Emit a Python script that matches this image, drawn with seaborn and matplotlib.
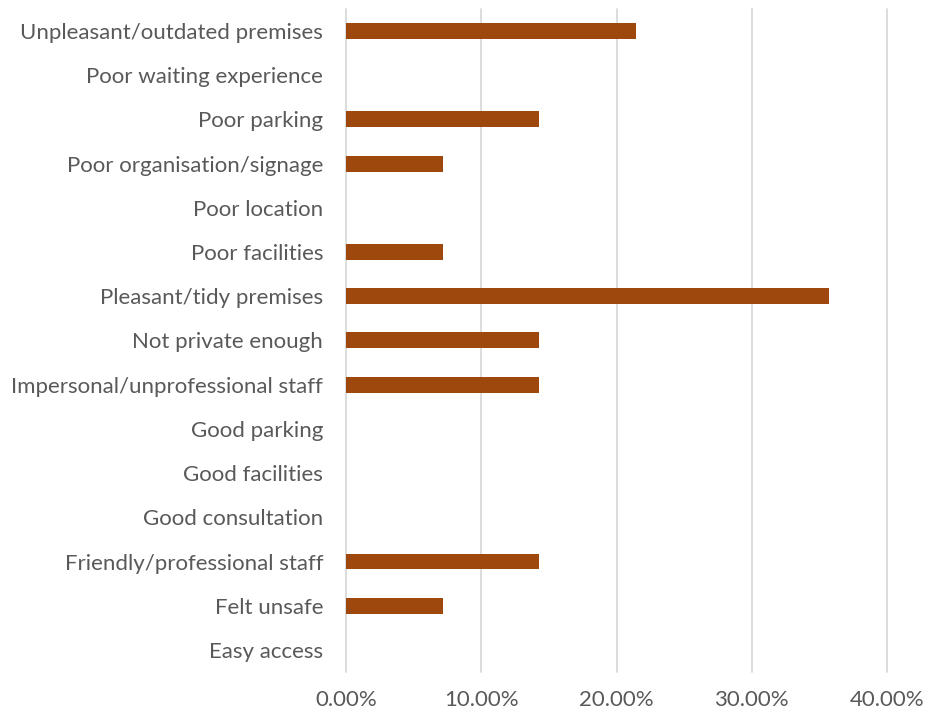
import matplotlib
matplotlib.use("Agg")
import matplotlib.pyplot as plt
import seaborn as sns
import pandas as pd
from matplotlib.ticker import PercentFormatter

categories = [
    "Unpleasant/outdated premises",
    "Poor waiting experience",
    "Poor parking",
    "Poor organisation/signage",
    "Poor location",
    "Poor facilities",
    "Pleasant/tidy premises",
    "Not private enough",
    "Impersonal/unprofessional staff",
    "Good parking",
    "Good facilities",
    "Good consultation",
    "Friendly/professional staff",
    "Felt unsafe",
    "Easy access",
]
shares = [21.43, 0, 14.29, 7.14, 0, 7.14, 35.71, 14.29, 14.29, 0, 0, 0, 14.29, 7.14, 0]
x_ticks = [0, 10, 20, 30, 40]

df = pd.DataFrame({"category": categories, "share": shares})

sns.set_theme(style="white")
plt.rcParams["font.family"] = ["Lato", "DejaVu Sans"]

fig = plt.figure(figsize=(9.27, 7.15), dpi=100)
ax = fig.add_axes([0.3733, 0.0601, 0.5836, 0.9275])

sns.barplot(data=df, x="share", y="category", order=categories,
            color="#9E480E", saturation=1, width=0.36, linewidth=0,
            ax=ax, zorder=3)

ax.set_xlim(0, 40)
ax.set_xticks(x_ticks)
ax.xaxis.set_major_formatter(PercentFormatter(decimals=2))
ax.grid(axis="x", color="#D9D9D9", linewidth=1.3, zorder=0)
for gl in ax.get_xgridlines():
    gl.set_clip_on(False)
ax.grid(axis="y", visible=False)
for s in ax.spines.values():
    s.set_visible(False)
ax.set_xlabel("")
ax.set_ylabel("")
ax.tick_params(axis="both", length=0, labelsize=16, colors="#595959")
ax.tick_params(axis="x", pad=13)
ax.tick_params(axis="y", pad=16.5)

fig.savefig("out.png", dpi=100)
